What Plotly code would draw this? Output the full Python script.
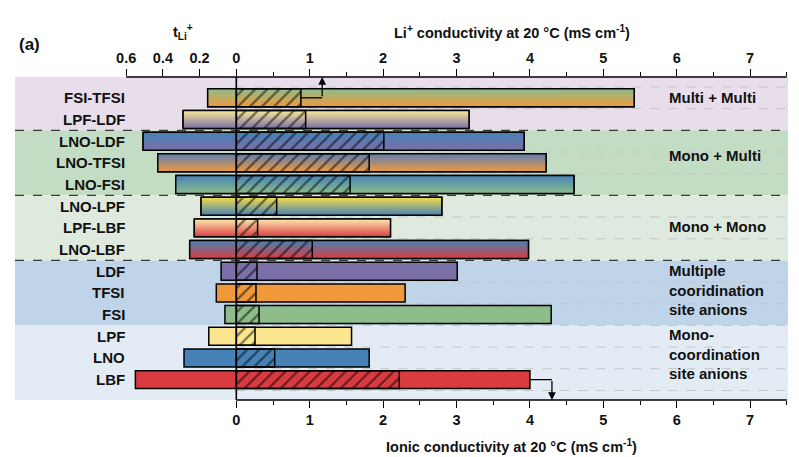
import plotly.graph_objects as go

# ---------------- data ----------------
labels = ["FSI-TFSI", "LPF-LDF", "LNO-LDF", "LNO-TFSI", "LNO-FSI",
          "LNO-LPF", "LPF-LBF", "LNO-LBF",
          "LDF", "TFSI", "FSI", "LPF", "LNO", "LBF"]
t_li = [0.156, 0.29, 0.508, 0.428, 0.33, 0.192, 0.229, 0.254,
        0.083, 0.109, 0.062, 0.15, 0.285, 0.55]
sigma_total = [5.42, 3.17, 3.92, 4.22, 4.60, 2.80, 2.10, 3.98,
               3.01, 2.30, 4.29, 1.57, 1.81, 4.00]
sigma_li = [0.88, 0.945, 2.01, 1.81, 1.55, 0.55, 0.29, 1.035,
            0.282, 0.268, 0.31, 0.255, 0.523, 2.22]

# gradient top / bottom colors for every row
top_colors = ["#8CBD8B", "#FBE896", "#4682B6", "#5F7DB4", "#4682B6",
              "#F6DF48", "#FDEBB0", "#4682B6",
              "#7B70A8", "#F0993B", "#8CBD8B", "#FBE58E", "#4682B6", "#D83C40"]
bottom_colors = ["#F0993B", "#7B70A8", "#7B70A8", "#F0993B", "#8CBD8B",
                 "#4682B6", "#D83C40", "#D83C40",
                 "#7B70A8", "#F0993B", "#8CBD8B", "#FBE58E", "#4682B6", "#D83C40"]

group_names = ["Multi + Multi", "Mono + Multi", "Mono + Mono",
               "Multiple<br>cooridination<br>site anions",
               "Mono-<br>coordination<br>site anions"]
group_first = [0, 2, 5, 8, 11]
group_last = [1, 4, 7, 10, 13]
group_label_pos = [0.0, 2.64, 5.94, 8.88, 11.84]
group_band_colors = ["#E8DEEB", "#C3DDC5", "#DEEADD", "#BFD4E8", "#E3ECF5"]

cond_ticks = [0, 1, 2, 3, 4, 5, 6, 7]
tli_ticks = [0.6, 0.4, 0.2]
TLI_SCALE = 2.5  # t_Li+ axis mapped onto conductivity units (drawn leftwards)

# ---------------- geometry ----------------
n = len(labels)
rows = list(range(n))
BAR_H = 0.83
X_RANGE = [-3.015, 7.516]
Y_RANGE = [13.94, -0.96]
X_END = 7.5
PAGE_OFFSET = 8  # default body margin of the html page

FONT = "Arial, Liberation Sans, sans-serif"

fig = go.Figure()

left_ends = [-TLI_SCALE * t for t in t_li]

# full bars (t_Li+ on the left, ionic conductivity on the right)
fig.add_trace(go.Bar(
    y=rows, x=[s - l for s, l in zip(sigma_total, left_ends)], base=left_ends,
    orientation="h", width=BAR_H,
    marker=dict(color=bottom_colors, line=dict(color="black", width=1.5)),
    hoverinfo="skip", showlegend=False))

# vertical gradients for mixed-anion rows
for i in rows:
    if top_colors[i] == bottom_colors[i]:
        continue
    y0, y1 = i - BAR_H / 2, i + BAR_H / 2
    xl, xr = left_ends[i], sigma_total[i]
    fig.add_trace(go.Scatter(
        x=[xl, xr, xr, xl, xl], y=[y0, y0, y1, y1, y0],
        mode="lines", fill="toself",
        fillgradient=dict(type="vertical",
                          colorscale=[[0, bottom_colors[i]], [1, top_colors[i]]]),
        line=dict(color="black", width=1.5),
        hoverinfo="skip", showlegend=False))

# hatched Li+ conductivity boxes
hx, hy = [], []
for i in rows:
    y0, y1 = i - BAR_H / 2, i + BAR_H / 2
    hx += [0, sigma_li[i], sigma_li[i], 0, 0, None]
    hy += [y0, y0, y1, y1, y0, None]
fig.add_trace(go.Scatter(
    x=hx, y=hy, mode="lines", fill="toself",
    fillcolor="rgba(0,0,0,0)",
    fillpattern=dict(shape="/", fgcolor="black", bgcolor="rgba(0,0,0,0)",
                     size=8.5, solidity=0.26, fillmode="overlay"),
    line=dict(color="black", width=1.5),
    hoverinfo="skip", showlegend=False))

# connector lines for the two pointer arrows
fsi_tfsi = 0
lbf = n - 1
arrow_top_x = 1.17
arrow_bot_x = 4.30
fig.add_trace(go.Scatter(
    x=[sigma_li[fsi_tfsi], arrow_top_x, None, sigma_total[lbf], arrow_bot_x],
    y=[fsi_tfsi, fsi_tfsi, None, lbf, lbf],
    mode="lines", line=dict(color="black", width=1.3),
    hoverinfo="skip", showlegend=False))

# invisible trace for the top axis
fig.add_trace(go.Scatter(x=[0, X_END], y=[0, 0], xaxis="x2", mode="markers",
                         marker=dict(opacity=0), hoverinfo="skip", showlegend=False))

shapes = []
# background bands
for k in range(len(group_names)):
    y0 = Y_RANGE[1] if group_first[k] == 0 else group_first[k] - 0.5
    y1 = Y_RANGE[0] if group_last[k] == n - 1 else group_last[k] + 0.5
    shapes.append(dict(type="rect", xref="paper", x0=0, x1=1, yref="y", y0=y0, y1=y1,
                       fillcolor=group_band_colors[k], line=dict(width=0), layer="below"))
# light dashed row grid lines
for i in range(-1, n):
    yv = i + 0.5
    if any(abs(yv - (g + 0.5)) < 1e-9 for g in group_last[:3]):
        continue
    shapes.append(dict(type="line", xref="x", x0=0, x1=X_END, yref="y", y0=yv, y1=yv,
                       line=dict(color="#C4C4C4", width=1, dash="dash"), layer="below"))
# dark dashed group separators
for g in group_last[:3]:
    shapes.append(dict(type="line", xref="paper", x0=0, x1=1, yref="y", y0=g + 0.5, y1=g + 0.5,
                       line=dict(color="#3A3A3A", width=1.3, dash="dash"), layer="below"))
# axis lines
shapes.append(dict(type="line", xref="x", x0=0, x1=X_END, yref="paper", y0=0, y1=0,
                   line=dict(color="black", width=1.4), layer="above"))
shapes.append(dict(type="line", xref="x", x0=-TLI_SCALE * max(tli_ticks), x1=X_END,
                   yref="paper", y0=1, y1=1, line=dict(color="black", width=1.4), layer="above"))
shapes.append(dict(type="line", xref="x", x0=0, x1=0, yref="paper", y0=0, y1=1,
                   line=dict(color="black", width=1.6), layer="above"))

annotations = []
lab_font = dict(family=FONT, size=15, color="#111111", weight="bold")
for i, lab in enumerate(labels):
    annotations.append(dict(x=-1.49, y=i, xref="x", yref="y", text=lab, showarrow=False,
                            xanchor="right", yanchor="middle", font=lab_font))
for k, g in enumerate(group_names):
    annotations.append(dict(x=5.864, y=group_label_pos[k], xref="x", yref="y", text=g,
                            showarrow=False, xanchor="left", yanchor="middle", align="left",
                            font=lab_font))
# arrowheads
annotations.append(dict(x=arrow_top_x, y=Y_RANGE[1], xref="x", yref="y",
                        ax=arrow_top_x, ay=fsi_tfsi, axref="x", ayref="y", text="",
                        showarrow=True, arrowhead=2, arrowsize=1.2, arrowwidth=1.3,
                        arrowcolor="black", standoff=0))
annotations.append(dict(x=arrow_bot_x, y=Y_RANGE[0], xref="x", yref="y",
                        ax=arrow_bot_x, ay=lbf, axref="x", ayref="y", text="",
                        showarrow=True, arrowhead=2, arrowsize=1.2, arrowwidth=1.3,
                        arrowcolor="black", standoff=0))
# titles
title_font = dict(family=FONT, size=14.5, color="#111111", weight="bold")
annotations.append(dict(x=X_END / 2, y=1, xref="x", yref="paper", yshift=45,
                        text="Li<sup>+</sup> conductivity at 20 °C (mS cm<sup>-1</sup>)",
                        showarrow=False, xanchor="center", yanchor="middle", font=title_font))
annotations.append(dict(x=X_END / 2, y=0, xref="x", yref="paper", yshift=-46,
                        text="Ionic conductivity at 20 °C (mS cm<sup>-1</sup>)",
                        showarrow=False, xanchor="center", yanchor="middle", font=title_font))
annotations.append(dict(x=-TLI_SCALE * 0.2 - 0.22, y=1, xref="x", yref="paper", yshift=45,
                        text="t<sub>Li</sub><sup>+</sup>",
                        showarrow=False, xanchor="center", yanchor="middle", font=title_font))
annotations.append(dict(x=(17 - 15) / 773, y=1 + (77 - 45) / 323, xref="paper", yref="paper",
                        text="(a)", showarrow=False, xanchor="left", yanchor="middle",
                        font=dict(family=FONT, size=17, color="#111111", weight="bold")))

tick_font = dict(family=FONT, size=14.5, color="#111111", weight="bold")
top_vals = [-TLI_SCALE * t for t in tli_ticks] + cond_ticks
top_text = [f"{t:.1f}" for t in tli_ticks] + [str(c) for c in cond_ticks]
minor_vals = [c + 0.5 for c in cond_ticks]

fig.update_layout(
    width=799 - PAGE_OFFSET, height=457 - PAGE_OFFSET,
    margin=dict(l=15 - PAGE_OFFSET, r=11, t=77 - PAGE_OFFSET, b=57),
    paper_bgcolor="white", plot_bgcolor="white",
    barmode="overlay",
    showlegend=False,
    xaxis=dict(range=X_RANGE, showgrid=False, zeroline=False, showline=False,
               tickmode="array", tickvals=cond_ticks, ticktext=[str(c) for c in cond_ticks],
               ticks="outside", ticklen=7, tickwidth=1.4, tickcolor="black",
               tickfont=tick_font, automargin=False,
               minor=dict(tickmode="array", tickvals=minor_vals, ticks="outside",
                          ticklen=4, tickwidth=1.4, tickcolor="black", showgrid=False)),
    xaxis2=dict(range=X_RANGE, overlaying="x", side="top", anchor="y",
                showgrid=False, zeroline=False, showline=False,
                tickmode="array", tickvals=top_vals, ticktext=top_text,
                ticks="outside", ticklen=7, tickwidth=1.4, tickcolor="black",
                tickfont=tick_font, automargin=False,
                minor=dict(tickmode="array", tickvals=minor_vals, ticks="outside",
                           ticklen=4, tickwidth=1.4, tickcolor="black", showgrid=False)),
    yaxis=dict(range=Y_RANGE, showgrid=False, zeroline=False, showline=False,
               showticklabels=False, ticks="", automargin=False),
    shapes=shapes,
    annotations=annotations,
)

fig.write_html("out.html")
